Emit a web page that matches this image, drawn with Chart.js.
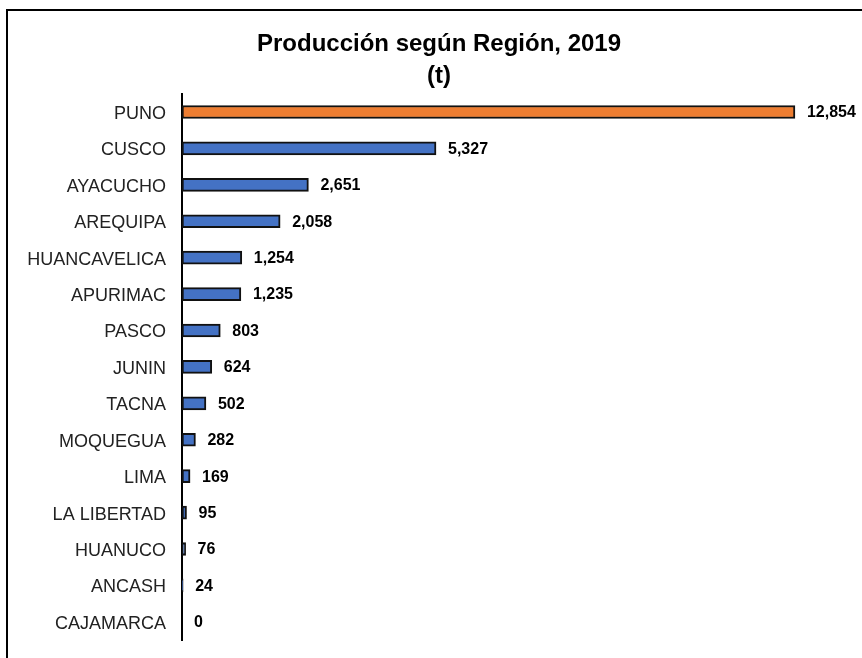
<!DOCTYPE html>
<html>
<head>
<meta charset="utf-8">
<script src="https://cdn.jsdelivr.net/npm/chart.js@4.4.1/dist/chart.umd.min.js"></script>
<style>
    html, body { margin: 0; padding: 0; background: #fff; overflow: hidden; }
    #wrap { position: relative; width: 862px; height: 658px; }
    #marco { position: absolute; left: 6px; top: 9px; width: 900px; height: 700px;
             border-top: 2px solid #000; border-left: 2px solid #000; }
    #caja { position: absolute; left: 0; top: 0; width: 862px; height: 658px; }
</style>
</head>
<body>
<div id="wrap">
    <div id="marco"></div>
    <div id="caja"><canvas id="chartRegion"></canvas></div>
</div>
<script>
// Datos
const regiones = ['PUNO', 'CUSCO', 'AYACUCHO', 'AREQUIPA', 'HUANCAVELICA', 'APURIMAC', 'PASCO',
    'JUNIN', 'TACNA', 'MOQUEGUA', 'LIMA', 'LA LIBERTAD', 'HUANUCO', 'ANCASH', 'CAJAMARCA'];
const produccion = [12854, 5327, 2651, 2058, 1254, 1235, 803, 624, 502, 282, 169, 95, 76, 24, 0];
const colores = regiones.map(r => r === 'PUNO' ? '#ED7D31' : '#4472C4');

const fuente = "'Liberation Sans', Arial, sans-serif";

// Etiquetas de valor a la derecha de cada barra
const etiquetasValor = {
    id: 'etiquetasValor',
    afterDatasetsDraw(chart) {
        const ctx = chart.ctx;
        const meta = chart.getDatasetMeta(0);
        ctx.save();
        ctx.font = 'bold 16px ' + fuente;
        ctx.fillStyle = '#000';
        ctx.textAlign = 'left';
        ctx.textBaseline = 'middle';
        meta.data.forEach((barra, i) => {
            const texto = produccion[i].toLocaleString('en-US');
            ctx.fillText(texto, barra.x + 12, barra.y + 1);
        });
        ctx.restore();
    }
};

new Chart(document.getElementById('chartRegion'), {
    type: 'bar',
    data: {
        labels: regiones,
        datasets: [{
            data: produccion,
            backgroundColor: colores,
            borderColor: '#111',
            borderWidth: 2,
            borderSkipped: false,
            barThickness: 13
        }]
    },
    options: {
        indexAxis: 'y',
        responsive: true,
        maintainAspectRatio: false,
        animation: false,
        layout: {
            padding: { left: 16, right: 0, top: 0, bottom: 18 }
        },
        plugins: {
            legend: { display: false },
            tooltip: { enabled: false },
            title: {
                display: true,
                text: ['Producción según Región, 2019', '(t)'],
                color: '#000',
                font: { family: fuente, size: 24, weight: 'bold', lineHeight: 1.35 },
                padding: { top: 28, bottom: 1 }
            }
        },
        scales: {
            x: {
                display: false,
                min: 0,
                max: 14260
            },
            y: {
                grid: { display: false, drawTicks: false },
                border: { display: true, color: '#000', width: 2 },
                ticks: {
                    color: '#222',
                    padding: 16,
                    labelOffset: 2,
                    font: { family: fuente, size: 18 }
                },
                afterFit(scale) {
                    scale.width = 166; // eje en x = 182
                    scale.paddingTop = 0;
                    scale.paddingBottom = 0;
                }
            }
        }
    },
    plugins: [etiquetasValor]
});
</script>
</body>
</html>
